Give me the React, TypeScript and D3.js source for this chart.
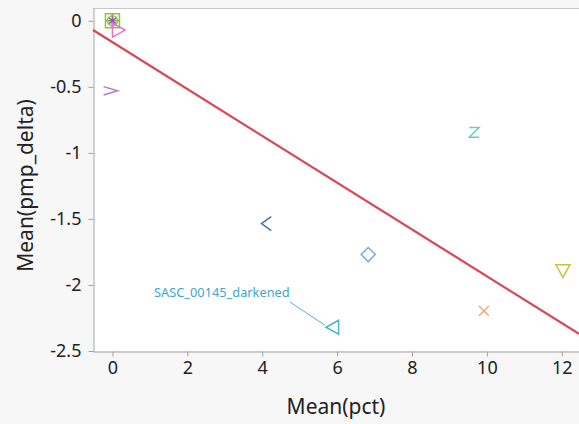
import { useEffect, useRef } from "react";
import * as d3 from "d3";

// points
const xs = [0, 0, 0, 0, 0.15, -0.05, 9.66, 4.13, 6.83, 5.89, 9.92, 12.03];
const ys = [0, 0, 0, 0, -0.07, -0.53, -0.845, -1.535, -1.77, -2.32, -2.196, -1.89];
const shapes = ["square", "plus", "asterisk", "circle", "triRight", "gt", "z", "lt", "diamond", "triLeft", "x", "triDown"];
const colors = ["#86c441", "#7ab83a", "#a24fc4", "#8cc84b", "#e36fcf", "#b27cc8", "#6ec9c6", "#4f6db4", "#7ea4ea", "#4fb3d3", "#f0a57a", "#c9c23a"];

const xTicks = [0, 2, 4, 6, 8, 10, 12];
const yTicks = [0, -0.5, -1, -1.5, -2, -2.5];

// fit line (from picture)
const fitX = [-0.52, 12.46];
const fitY = [-0.07, -2.37];

const annotText = "SASC_00145_darkened";

const font = "'Noto Sans', 'Open Sans', sans-serif";

function shapePath(s: string, r: number) {
  switch (s) {
    case "square":
      return `M${-r},${-r}H${r}V${r}H${-r}Z`;
    case "plus":
      return `M${-r},0H${r}M0,${-r}V${r}`;
    case "asterisk":
      return `M0,${-r * 0.8}V${r * 0.8}M${-r * 0.6},${-r * 0.5}L${r * 0.6},${r * 0.5}M${-r * 0.6},${r * 0.5}L${r * 0.6},${-r * 0.5}`;
    case "circle":
      return d3.symbol(d3.symbolCircle, r * r * 1.6)() as string;
    case "triRight":
      return `M${-r * 0.8},${-r}L${r},0L${-r * 0.8},${r}Z`;
    case "triLeft":
      return `M${r * 0.8},${-r}L${-r},0L${r * 0.8},${r}Z`;
    case "triDown":
      return `M${-r},${-r * 0.8}H${r}L0,${r}Z`;
    case "gt":
      return `M${-r},${-r * 0.6}L${r},0L${-r},${r * 0.6}`;
    case "lt":
      return `M${r * 0.6},${-r}L${-r * 0.8},0L${r * 0.6},${r}`;
    case "z":
      return `M${-r * 0.7},${-r * 0.7}H${r * 0.7}L${-r * 0.7},${r * 0.7}H${r * 0.7}`;
    case "diamond":
      return `M0,${-r}L${r},0L0,${r}L${-r},0Z`;
    case "x":
      return `M${-r * 0.7},${-r * 0.7}L${r * 0.7},${r * 0.7}M${-r * 0.7},${r * 0.7}L${r * 0.7},${-r * 0.7}`;
  }
  return "";
}

export default function App() {
  const ref = useRef<SVGSVGElement>(null);

  useEffect(() => {
    const width = 579;
    const height = 424;
    const margin = { top: 8, right: 0, bottom: 73, left: 93 };

    const svg = d3.select(ref.current);
    svg.selectAll("*").remove();

    svg.append("rect").attr("width", width).attr("height", height).attr("fill", "#f7f7f7");

    const x = d3.scaleLinear().domain([-0.52, 12.46]).range([margin.left, width - margin.right]);
    const y = d3.scaleLinear().domain([-2.5, 0.097]).range([height - margin.bottom, margin.top]);

    svg
      .append("rect")
      .attr("x", margin.left)
      .attr("y", margin.top)
      .attr("width", width - margin.left - margin.right)
      .attr("height", height - margin.top - margin.bottom)
      .attr("fill", "#fff");

    // top border
    svg
      .append("line")
      .attr("x1", margin.left)
      .attr("x2", width)
      .attr("y1", margin.top + 0.5)
      .attr("y2", margin.top + 0.5)
      .attr("stroke", "#c8c8c8");

    const gx = svg
      .append("g")
      .attr("transform", `translate(0,${height - margin.bottom + 0.5})`)
      .call(d3.axisBottom(x).tickValues(xTicks).tickSize(5).tickSizeOuter(0).tickPadding(5));
    gx.select(".domain").attr("stroke", "#a0a0a0");
    gx.selectAll("line").attr("stroke", "#a0a0a0");
    gx.selectAll("text").attr("font-size", 18).attr("font-family", font).attr("fill", "#222");

    const gy = svg
      .append("g")
      .attr("transform", `translate(${margin.left + 0.5},0)`)
      .call(
        d3
          .axisLeft(y)
          .tickValues(yTicks)
          .tickSize(5)
          .tickSizeOuter(0)
          .tickPadding(7)
          .tickFormat((d) => String(d))
      );
    gy.select(".domain").attr("stroke", "#a0a0a0");
    gy.selectAll("line").attr("stroke", "#a0a0a0");
    gy.selectAll("text").attr("font-size", 18).attr("font-family", font).attr("fill", "#222");

    svg
      .append("text")
      .attr("x", (margin.left + width) / 2)
      .attr("y", 414)
      .attr("text-anchor", "middle")
      .attr("font-size", 21)
      .attr("font-family", font)
      .attr("fill", "#222")
      .text("Mean(pct)");

    svg
      .append("text")
      .attr("transform", `translate(33,${(margin.top + height - margin.bottom) / 2 + 6}) rotate(-90)`)
      .attr("text-anchor", "middle")
      .attr("font-size", 21)
      .attr("font-family", font)
      .attr("fill", "#222")
      .text("Mean(pmp_delta)");

    const plot = svg.append("g");

    plot
      .append("line")
      .attr("x1", x(fitX[0]))
      .attr("y1", y(fitY[0]))
      .attr("x2", x(fitX[1]))
      .attr("y2", y(fitY[1]))
      .attr("stroke", "#d94556")
      .attr("stroke-width", 2.2);

    plot
      .selectAll("path.pt")
      .data(xs.map((d, i) => i))
      .enter()
      .append("path")
      .attr("class", "pt")
      .attr("transform", (i) => `translate(${x(xs[i])},${y(ys[i])})`)
      .attr("d", (i) => shapePath(shapes[i], 7))
      .attr("fill", "none")
      .attr("stroke", (i) => colors[i])
      .attr("stroke-width", 1.5);

    // annotation for the left triangle
    const ai = 9;
    plot
      .append("line")
      .attr("x1", 290)
      .attr("y1", 302)
      .attr("x2", x(xs[ai]) - 8)
      .attr("y2", y(ys[ai]) - 2)
      .attr("stroke", "#4fb3d3")
      .attr("stroke-width", 1);
    plot
      .append("text")
      .attr("x", 154)
      .attr("y", 297)
      .attr("font-size", 12.8)
      .attr("font-family", font)
      .attr("fill", "#3fa6cc")
      .text(annotText);
  }, []);

  return (
    <div style={{ position: "absolute", left: 0, top: 0 }}>
      <svg ref={ref} width={579} height={424} style={{ display: "block" }} />
    </div>
  );
}
